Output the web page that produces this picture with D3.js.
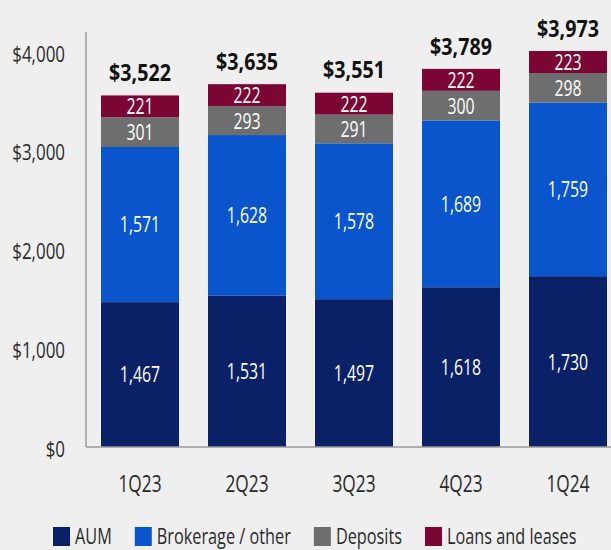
<!DOCTYPE html>
<html>
<head>
<meta charset="utf-8">
<script src="https://cdn.jsdelivr.net/npm/d3@7"></script>
<style>
  html, body { margin: 0; padding: 0; background: #efefef; }
  svg { display: block; font-family: "Open Sans", sans-serif; }
</style>
</head>
<body>
<div id="chart"></div>
<script>
var svgWidth = 611;
var svgHeight = 550;

// data
var quarters = ["1Q23", "2Q23", "3Q23", "4Q23", "1Q24"];
var aum = [1467, 1531, 1497, 1618, 1730];
var brokerage = [1571, 1628, 1578, 1689, 1759];
var deposits = [301, 293, 291, 300, 298];
var loans = [221, 222, 222, 222, 223];
var totals = [3522, 3635, 3551, 3789, 3973];
var yTicks = [0, 1000, 2000, 3000, 4000];
var seriesNames = ["AUM", "Brokerage / other", "Deposits", "Loans and leases"];
var seriesColors = ["#0a2168", "#0a55cc", "#6e6e6e", "#7b0533"];

var svg = d3.select("#chart")
  .append("svg")
  .attr("width", svgWidth)
  .attr("height", svgHeight);

var x = d3.scaleBand()
  .domain(quarters)
  .range([101, 607])
  .paddingInner(0.271)
  .paddingOuter(0);

var y = d3.scaleLinear()
  .domain([0, 4000])
  .range([447, 52]);

// stack the four series
var rows = quarters.map(function (q, i) {
  return { q: q, s0: aum[i], s1: brokerage[i], s2: deposits[i], s3: loans[i], total: totals[i] };
});
var stack = d3.stack().keys(["s0", "s1", "s2", "s3"]);
var layers = stack(rows);

var layerGroups = svg.selectAll("g.layer")
  .data(layers)
  .enter()
  .append("g")
  .attr("class", "layer")
  .attr("fill", function (d, i) { return seriesColors[i]; });

layerGroups.selectAll("rect")
  .data(function (d) { return d; })
  .enter()
  .append("rect")
  .attr("x", function (d) { return x(d.data.q); })
  .attr("y", function (d) { return y(d[1]); })
  .attr("width", x.bandwidth())
  .attr("height", function (d) { return y(d[0]) - y(d[1]); });

// segment labels
layerGroups.selectAll("text")
  .data(function (d) { return d.map(function (p) { return { p: p, key: d.key }; }); })
  .enter()
  .append("text")
  .attr("transform", function (d) {
    var cx = x(d.p.data.q) + x.bandwidth() / 2;
    var cy = (y(d.p[0]) + y(d.p[1])) / 2;
    return "translate(" + cx + "," + cy + ") scale(0.72,1)";
  })
  .attr("text-anchor", "middle")
  .attr("dy", "0.36em")
  .attr("fill", "#ffffff")
  .style("font-size", "22px")
  .text(function (d) { return d3.format(",")(d.p.data[d.key]); });

// totals above the bars
svg.selectAll("text.total")
  .data(rows)
  .enter()
  .append("text")
  .attr("class", "total")
  .attr("transform", function (d) {
    return "translate(" + (x(d.q) + x.bandwidth() / 2) + "," + (y(d.total) - 18) + ") scale(0.82,1)";
  })
  .attr("text-anchor", "middle")
  .attr("fill", "#111")
  .style("font-size", "24px")
  .style("font-weight", "bold")
  .text(function (d) { return "$" + d3.format(",")(d.total); });

// axes lines
svg.append("line")
  .attr("x1", 86).attr("x2", 86)
  .attr("y1", y(4200)).attr("y2", y(0))
  .attr("stroke", "#9a9a9a")
  .attr("stroke-width", 1.5);

svg.append("line")
  .attr("x1", 86).attr("x2", svgWidth)
  .attr("y1", y(0)).attr("y2", y(0))
  .attr("stroke", "#9a9a9a")
  .attr("stroke-width", 1.5);

// y axis labels
var leftAxis = d3.axisLeft(y)
  .tickValues(yTicks)
  .tickSize(0)
  .tickFormat(function (d) { return "$" + d3.format(",")(d); });

var yAxisG = svg.append("g")
  .attr("transform", "translate(65,0)")
  .call(leftAxis);
yAxisG.select(".domain").remove();
yAxisG.selectAll("text")
  .attr("x", 0)
  .attr("dy", "0.42em")
  .attr("transform", "scale(0.77,1)")
  .attr("fill", "#2a2a2a")
  .style("font-size", "22px")
  .style("font-family", "'Open Sans', sans-serif");

// x axis labels
var bottomAxis = d3.axisBottom(x).tickSize(0);
var xAxisG = svg.append("g")
  .attr("transform", "translate(0,483)")
  .call(bottomAxis);
xAxisG.select(".domain").remove();
xAxisG.selectAll("text")
  .attr("y", 0)
  .attr("dy", "0.36em")
  .attr("transform", "scale(0.72,1)")
  .attr("fill", "#2a2a2a")
  .style("font-size", "24px")
  .style("font-family", "'Open Sans', sans-serif");

// legend
var legend = svg.append("g").attr("class", "legend");
var lx = 53;
seriesNames.forEach(function (name, i) {
  legend.append("rect")
    .attr("x", lx)
    .attr("y", 527)
    .attr("width", 17)
    .attr("height", 19)
    .attr("fill", seriesColors[i]);
  var t = legend.append("text")
    .attr("transform", "translate(" + (lx + 22) + ",544) scale(0.74,1)")
    .attr("fill", "#2a2a2a")
    .style("font-size", "22px")
    .text(name);
  var w = t.node().getComputedTextLength() * 0.74;
  lx = lx + 22 + w + 23;
});
</script>
</body>
</html>
